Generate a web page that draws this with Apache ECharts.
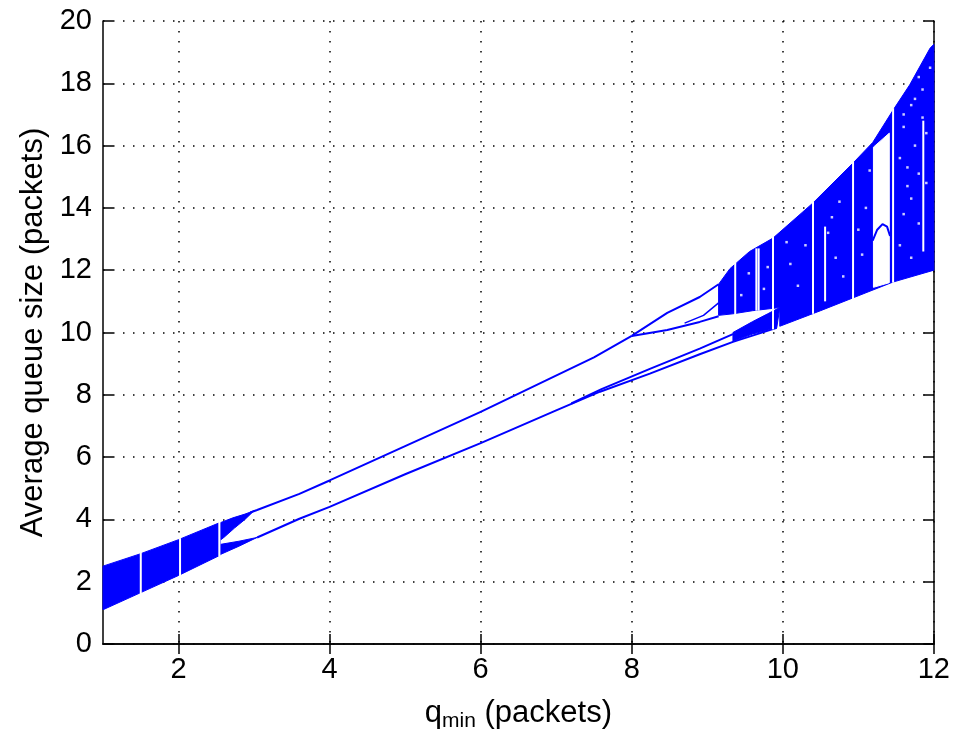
<!DOCTYPE html>
<html>
<head>
<meta charset="utf-8">
<script src="https://cdn.jsdelivr.net/npm/echarts@6/dist/echarts.min.js"></script>
<style>
  html, body { margin: 0; padding: 0; background: #fff; }
  #chart { width: 953px; height: 738px; }
</style>
</head>
<body>
<div id="chart"></div>
<script>
// axis ticks
const xTicks = [2, 4, 6, 8, 10, 12]
const yTicks = [0, 2, 4, 6, 8, 10, 12, 14, 16, 18, 20]

// filled band, q_min 1 .. 2.55
const band1Top = [[1, 2.5], [1.5, 2.9], [2, 3.35], [2.55, 3.9]]
const band1Bottom = [[1, 1.1], [1.5, 1.65], [2, 2.2], [2.55, 2.85]]

// small pieces right after the first band
const pieceUpper = [[2.56, 3.9], [2.72, 4.05], [2.88, 4.17], [3.0, 4.28], [2.88, 4.0], [2.74, 3.72], [2.6, 3.42], [2.56, 3.35]]
const pieceLower = [[2.56, 3.2], [2.8, 3.3], [3.04, 3.42], [2.8, 3.14], [2.56, 2.88]]

// period-2 branches
const upperLine = [[2.95, 4.22], [3.04, 4.3], [3.6, 4.82], [4, 5.25], [5, 6.35], [6, 7.45], [6.88, 8.48], [7.5, 9.2], [8.0, 9.89]]
const lowerLine = [[3.04, 3.42], [3.6, 4.02], [4, 4.4], [5, 5.45], [6, 6.45], [7, 7.5], [7.58, 8.1], [8.24, 8.68], [8.9, 9.3], [9.34, 9.7], [9.92, 10.15]]
const lowerLine2 = [[7.2, 7.72], [7.6, 8.18], [8.24, 8.83], [8.9, 9.48], [9.34, 9.95]]

// split of the upper branch after q_min = 8
const splitUp = [[8.0, 9.89], [8.47, 10.63], [8.9, 11.14], [9.15, 11.55]]
const splitDown = [[8.0, 9.89], [8.47, 10.08], [8.9, 10.34], [9.15, 10.52]]
const splitInner = [[8.7, 10.3], [8.95, 10.55], [9.15, 10.95]]

// lower wedge 9.34 .. 9.96
const lowerWedge = [[9.34, 9.72], [9.34, 10.0], [9.6, 10.35], [9.8, 10.6], [9.96, 10.8], [9.92, 10.15], [9.6, 9.95]]

// chaotic band 9.15 .. 12
const chaosTop = [[9.15, 10.55], [9.15, 11.55], [9.3, 12.05], [9.56, 12.6], [9.87, 13.03], [10.4, 14.16], [10.93, 15.44], [11.19, 16.1], [11.46, 17.14], [11.68, 17.95], [11.95, 19.13], [12, 19.25]]
const chaosBottom = [[12, 12.0], [11.46, 11.62], [10.5, 10.7], [9.96, 10.2], [9.96, 10.8], [9.6, 10.7], [9.34, 10.6], [9.15, 10.55]]

// white window inside the chaotic band and the arch in it
const windowCol = [[11.2, 11.45], [11.2, 15.95], [11.41, 16.4], [11.41, 11.6]]
const windowArch = [[11.19, 12.95], [11.25, 13.3], [11.32, 13.48], [11.38, 13.4], [11.42, 13.1]]

// white vertical gaps: [q_min, from, to]
const gaps = [
  [1.5, 1.6, 2.95], [2.02, 2.15, 3.4], [2.54, 2.8, 3.95],
  [9.37, 10.5, 12.3], [9.65, 10.7, 12.7], [9.68, 10.7, 12.7], [9.87, 10.1, 13.1],
  [10.4, 10.6, 14.2], [10.56, 11.0, 13.4], [10.93, 10.95, 15.5],
  [11.46, 11.6, 17.2], [11.86, 12.6, 16.8]
]

// white specks in the chaotic band
const specks = [
  [9.45, 11.2], [9.55, 11.9], [9.8, 12.1], [9.75, 11.4], [10.05, 12.9],
  [10.1, 12.2], [10.2, 11.5], [10.3, 12.8], [10.6, 13.2], [10.7, 12.4],
  [10.8, 11.8], [10.65, 13.7], [10.75, 14.2], [11.05, 12.5], [11.1, 14.0],
  [11.15, 15.2], [11.0, 13.3], [11.55, 15.6], [11.6, 16.6], [11.65, 14.7],
  [11.7, 17.3], [11.75, 16.0], [11.8, 15.1], [11.85, 17.8], [11.9, 16.4],
  [11.6, 13.8], [11.7, 14.3], [11.8, 13.5], [11.55, 12.8], [11.9, 14.8],
  [11.65, 15.3], [11.75, 17.5], [11.85, 16.9], [11.95, 18.5], [11.7, 12.4],
  [11.6, 17.0], [11.8, 18.2]
]

const BLUE = '#0000ff'
const FONT = 'Liberation Sans, Arial, sans-serif'

function polygon (points, color, z) {
  return {
    type: 'custom',
    data: points,
    encode: { x: 0, y: 1 },
    z: z,
    silent: true,
    renderItem: function (params, api) {
      if (params.dataIndex !== 0) return
      return {
        type: 'polygon',
        shape: { points: points.map(function (p) { return api.coord(p) }) },
        style: { fill: color, stroke: color, lineWidth: 1 }
      }
    }
  }
}

function line (points, color, width, z) {
  return {
    type: 'line',
    data: points,
    showSymbol: false,
    z: z,
    silent: true,
    lineStyle: { color: color, width: width }
  }
}

let myChart = echarts.init(document.getElementById('chart'))
myChart.setOption({
  animation: false,
  grid: { left: 103, right: 19, top: 21, bottom: 94 },
  xAxis: [
    {
      type: 'value',
      min: 1,
      max: 12,
      name: '{q|q}{sub|min}{q| (packets)}',
      nameLocation: 'middle',
      nameGap: 54,
      nameTextStyle: {
        rich: {
          q: { fontFamily: FONT, fontSize: 31, color: '#000', lineHeight: 34, verticalAlign: 'top' },
          sub: { fontFamily: FONT, fontSize: 21, color: '#000', lineHeight: 20, verticalAlign: 'bottom' }
        },
        lineHeight: 42
      },
      axisLine: { lineStyle: { color: '#000', width: 1.5 } },
      axisTick: { inside: true, length: 10, customValues: xTicks, lineStyle: { color: '#000', width: 1.5 } },
      axisLabel: { customValues: xTicks, fontFamily: FONT, fontSize: 29, color: '#000', margin: 11 },
      splitLine: { show: true, lineStyle: { color: '#000', width: 1.5, type: [1.5, 8.5] } }
    },
    {
      type: 'value',
      position: 'top',
      min: 1,
      max: 12,
      axisLine: { lineStyle: { color: '#000', width: 1.5 } },
      axisTick: { inside: true, length: 10, customValues: xTicks, lineStyle: { color: '#000', width: 1.5 } },
      axisLabel: { show: false },
      splitLine: { show: false }
    }
  ],
  yAxis: [
    {
      type: 'value',
      min: 0,
      max: 20,
      interval: 2,
      name: 'Average queue size (packets)',
      nameLocation: 'middle',
      nameGap: 54,
      nameTextStyle: { fontFamily: FONT, fontSize: 31, color: '#000' },
      axisLine: { lineStyle: { color: '#000', width: 1.5 } },
      axisTick: { inside: true, length: 10, lineStyle: { color: '#000', width: 1.5 } },
      axisLabel: { fontFamily: FONT, fontSize: 29, color: '#000', margin: 11 },
      splitLine: { show: true, lineStyle: { color: '#000', width: 1.5, type: [1.5, 8.5] } }
    },
    {
      type: 'value',
      position: 'right',
      min: 0,
      max: 20,
      interval: 2,
      axisLine: { show: true, lineStyle: { color: '#000', width: 1.5 } },
      axisTick: { show: true, inside: true, length: 10, lineStyle: { color: '#000', width: 1.5 } },
      axisLabel: { show: false },
      splitLine: { show: false }
    }
  ],
  series: [
    polygon(band1Top.concat(band1Bottom.slice().reverse()), BLUE, 2),
    polygon(pieceUpper, BLUE, 2),
    polygon(pieceLower, BLUE, 2),
    polygon(lowerWedge, BLUE, 2),
    polygon(chaosTop.concat(chaosBottom), BLUE, 2),
    line(upperLine, BLUE, 2, 2),
    line(lowerLine, BLUE, 2, 2),
    line(lowerLine2, BLUE, 2, 2),
    line(splitUp, BLUE, 2, 2),
    line(splitDown, BLUE, 2, 2),
    line(splitInner, BLUE, 1.5, 2),
    polygon(windowCol, '#fff', 3),
    {
      type: 'custom',
      data: gaps,
      encode: { x: 0, y: [1, 2] },
      z: 3,
      silent: true,
      renderItem: function (params, api) {
        let a = api.coord([api.value(0), api.value(1)])
        let b = api.coord([api.value(0), api.value(2)])
        return {
          type: 'line',
          shape: { x1: a[0], y1: a[1], x2: b[0], y2: b[1] },
          style: { stroke: '#fff', lineWidth: 2 }
        }
      }
    },
    {
      type: 'scatter',
      data: specks,
      symbol: 'rect',
      symbolSize: 2.5,
      z: 4,
      silent: true,
      itemStyle: { color: '#fff' }
    },
    line(windowArch, BLUE, 2, 5)
  ]
})
</script>
</body>
</html>
